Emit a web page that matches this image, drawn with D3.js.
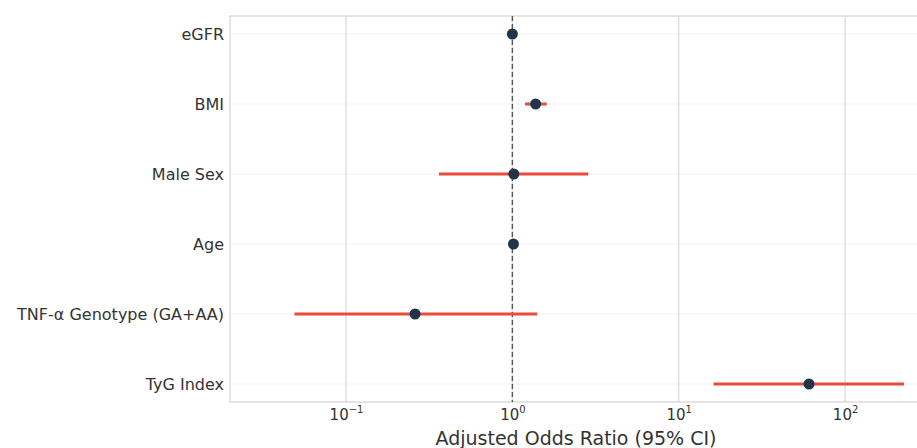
<!DOCTYPE html>
<html>
<head>
<meta charset="utf-8">
<script src="https://cdn.jsdelivr.net/npm/d3@7"></script>
<style>
  body { margin: 0; background: #fff; }
  svg { font-family: "DejaVu Sans", sans-serif; }
</style>
</head>
<body>
<div id="chart"></div>
<script>
// forest plot data, top to bottom
const factors = ["eGFR", "BMI", "Male Sex", "Age", "TNF-α Genotype (GA+AA)", "TyG Index"];
const oddsRatio = [1.00, 1.38, 1.02, 1.015, 0.26, 60.7];
const ciLow = [0.99, 1.19, 0.362, 1.00, 0.049, 16.2];
const ciHigh = [1.01, 1.61, 2.86, 1.03, 1.41, 226];
const xTicks = [0.1, 1, 10, 100];
const xTickExp = ["−1", "0", "1", "2"];

const W = 917, H = 448;
const margin = {top: 16, right: -5, bottom: 46, left: 230};
const width = W - margin.left - margin.right,
      height = H - margin.top - margin.bottom;

const rows = factors.map((f, i) => ({name: f, or: oddsRatio[i], lo: ciLow[i], hi: ciHigh[i]}));

const svg = d3.select("#chart").append("svg")
  .attr("width", W).attr("height", H);

const g = svg.append("g")
  .attr("transform", "translate(" + margin.left + "," + margin.top + ")");

const x = d3.scaleLog().domain([0.02007, 290]).range([0, width]);
const y = d3.scalePoint().domain(factors).range([0, height]).padding(0.257);

// horizontal faint grid
g.selectAll(".hgrid").data(factors).join("line")
  .attr("x1", 0).attr("x2", width)
  .attr("y1", d => y(d)).attr("y2", d => y(d))
  .attr("stroke", "#f3f3f3").attr("stroke-width", 1);

// vertical grid
g.selectAll(".vgrid").data(xTicks).join("line")
  .attr("x1", d => x(d)).attr("x2", d => x(d))
  .attr("y1", 0).attr("y2", height)
  .attr("stroke", "#dcdcdc").attr("stroke-width", 1.3);

// frame
g.append("rect")
  .attr("width", width).attr("height", height)
  .attr("fill", "none").attr("stroke", "#d6d6d6").attr("stroke-width", 1.3);

// reference line at OR = 1
g.append("line")
  .attr("x1", x(1)).attr("x2", x(1))
  .attr("y1", 0).attr("y2", height)
  .attr("stroke", "#555").attr("stroke-width", 1.4)
  .attr("stroke-dasharray", "5,3");

// confidence intervals
g.selectAll(".ci").data(rows).join("line")
  .attr("x1", d => x(d.lo)).attr("x2", d => x(d.hi))
  .attr("y1", d => y(d.name)).attr("y2", d => y(d.name))
  .attr("stroke", "#e74c3c").attr("stroke-width", 3);

// point estimates
g.selectAll(".pt").data(rows).join("circle")
  .attr("cx", d => x(d.or)).attr("cy", d => y(d.name))
  .attr("r", 5.5).attr("fill", "#22344a");

// y axis labels
const yAxis = g.append("g")
  .call(d3.axisLeft(y).tickSize(0).tickPadding(6));
yAxis.select(".domain").remove();
yAxis.selectAll("text")
  .attr("font-size", 16).attr("fill", "#333")
  .style("font-family", "DejaVu Sans, sans-serif");

// x axis with 10^n labels
const xAxis = g.append("g")
  .attr("transform", "translate(0," + height + ")")
  .call(d3.axisBottom(x).tickValues(xTicks).tickSize(0).tickFormat(""));
xAxis.select(".domain").remove();
xAxis.selectAll(".tick text").each(function(d, i) {
  const t = d3.select(this)
    .attr("y", 18).attr("dy", 0)
    .attr("font-size", 15).attr("fill", "#333")
    .style("font-family", "DejaVu Sans, sans-serif");
  t.append("tspan").text("10");
  t.append("tspan").text(xTickExp[i])
    .attr("font-size", 10).attr("dy", -7);
});

// x axis title
svg.append("text")
  .attr("x", margin.left + width / 2).attr("y", H - 3)
  .attr("text-anchor", "middle")
  .attr("font-size", 19).attr("fill", "#333")
  .text("Adjusted Odds Ratio (95% CI)");
</script>
</body>
</html>
